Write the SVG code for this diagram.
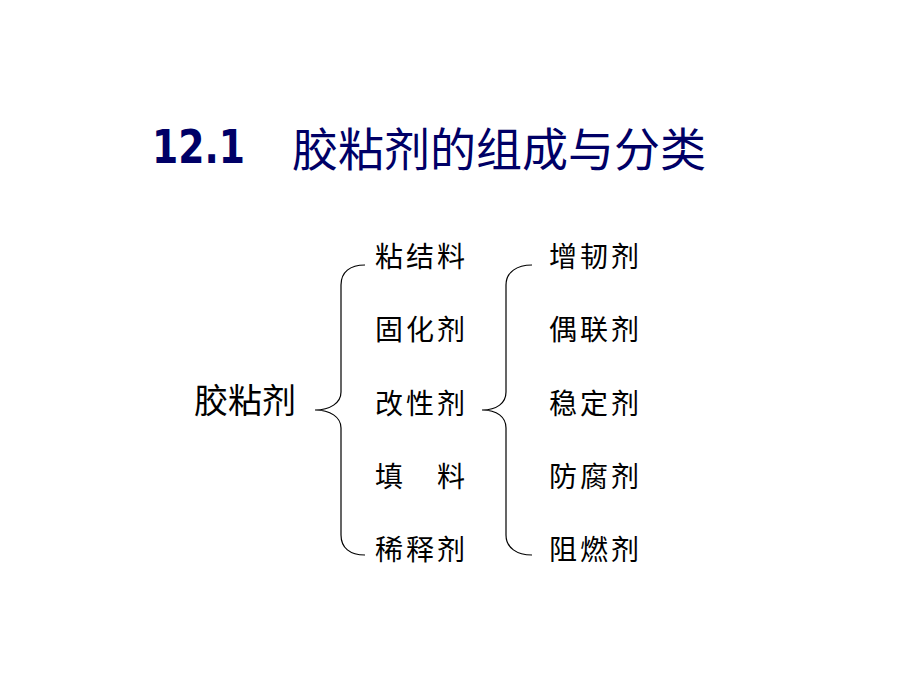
<svg xmlns="http://www.w3.org/2000/svg" width="920" height="690" viewBox="0 0 920 690">
<style>
.t{font-family:"Noto Sans CJK SC","Noto Sans",sans-serif;fill:#000066}
.item{font-family:"Noto Sans CJK SC",sans-serif;font-size:28px;letter-spacing:3px;fill:#000}
.br{fill:none;stroke:#000;stroke-width:1.2}
</style>
<rect width="920" height="690" fill="#fff"/>
<g id="title">
<text x="152" y="163" font-family="DejaVu Sans, sans-serif" font-weight="bold" font-size="46" fill="#000066" textLength="93" lengthAdjust="spacingAndGlyphs">12.1</text>
<text class="t" x="292" y="166" font-size="46">胶粘剂的组成与分类</text>
</g>
<g id="root"><text x="194" y="413" font-family="Noto Sans CJK SC, sans-serif" font-size="34" fill="#000">胶粘剂</text></g>
<g id="left-items">
<text class="item" x="375" y="267">粘结料</text>
<text class="item" x="375" y="340">固化剂</text>
<text class="item" x="375" y="414">改性剂</text>
<text class="item" x="375" y="487">填　料</text>
<text class="item" x="375" y="560">稀释剂</text>
</g>
<g id="right-items">
<text class="item" x="549" y="267">增韧剂</text>
<text class="item" x="549" y="340">偶联剂</text>
<text class="item" x="549" y="414">稳定剂</text>
<text class="item" x="549" y="487">防腐剂</text>
<text class="item" x="549" y="560">阻燃剂</text>
</g>
<g id="connectors">
<path class="br" d="M365,265 C350,265 341,272 341,285 L341,392 C341,403 330,410 315,410 C330,410 341,417 341,428 L341,535 C341,548 350,555 365,555"/>
<path class="br" d="M532,265 C517,265 506,272 506,285 L506,392 C506,403 497,410 482,410 C497,410 506,417 506,428 L506,535 C506,548 517,555 532,555"/>
</g>
</svg>
